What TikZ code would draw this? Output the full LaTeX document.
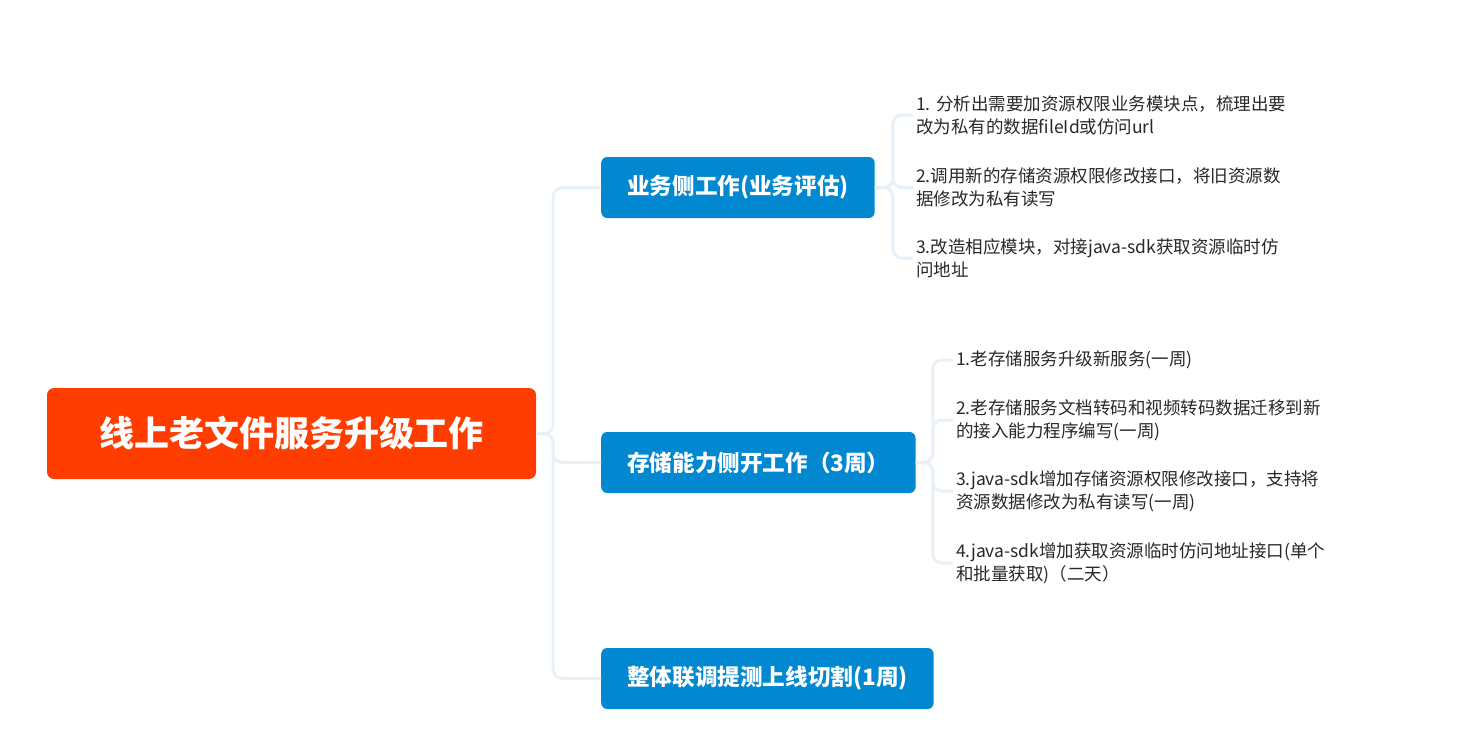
\documentclass[tikz,border=0pt]{standalone}
\usepackage{fontspec}
\setmainfont{Noto Sans CJK SC}
\usetikzlibrary{positioning}
\definecolor{rootred}{RGB}{255,61,0}
\definecolor{topicblue}{RGB}{2,136,209}
\definecolor{linkblue}{RGB}{232,240,248}
\definecolor{leafgray}{RGB}{40,40,40}

\begin{document}
\begin{tikzpicture}[
        x=1pt, y=-1pt,
        rootbox/.style={fill=rootred, rounded corners=7pt, text=white,
                    minimum width=489pt, minimum height=91pt,
                    font=\fontsize{35}{40}\selectfont\bfseries},
        topic/.style={anchor=west, fill=topicblue, rounded corners=6pt,
                    text=white, minimum height=61pt, inner xsep=26pt,
                    font=\fontsize{22.6}{26}\selectfont\bfseries},
        leaf/.style={anchor=west, align=left, text=leafgray,
                    inner xsep=3pt, font=\fontsize{17.5}{23}\selectfont},
        link/.style={draw=linkblue, line width=3pt, rounded corners=9pt}
    ]
    \useasboundingbox (0,0) rectangle (1470,747);

    % ------- root -------
    \node[rootbox] (root) at (291.5,433.5) {线上老文件服务升级工作};

    % ------- main topics -------
    \node[topic] (t1) at (601,187.5) {业务侧工作(业务评估)};
    \node[topic] (t2) at (601,462.5) {存储能力侧开工作（3周）};
    \node[topic] (t3) at (601,678.5) {整体联调提测上线切割(1周)};

    \foreach \t in {t1,t2,t3}
        \draw[link] (root.east) -- ++(17,0) |- (\t.west);

    % ------- 业务侧 -------
    \node[leaf] (a1) at (913,115) {1. 分析出需要加资源权限业务模块点，梳理出要\\改为私有的数据fileId或仿问url};
    \node[leaf] (a2) at (913,187.5) {2.调用新的存储资源权限修改接口，将旧资源数\\据修改为私有读写};
    \node[leaf] (a3) at (913,258) {3.改造相应模块，对接java-sdk获取资源临时仿\\问地址};

    \foreach \a in {a1,a2,a3}
        \draw[link] (t1.east) -- ++(18,0) |- (\a.west);

    % ------- 存储能力侧 -------
    \node[leaf] (s1) at (953,360) {1.老存储服务升级新服务(一周)};
    \node[leaf] (s2) at (953,420) {2.老存储服务文档转码和视频转码数据迁移到新\\的接入能力程序编写(一周)};
    \node[leaf] (s3) at (953,491) {3.java-sdk增加存储资源权限修改接口，支持将\\资源数据修改为私有读写(一周)};
    \node[leaf] (s4) at (953,563) {4.java-sdk增加获取资源临时仿问地址接口(单个\\和批量获取)（二天）};

    \foreach \s in {s1,s2,s3,s4}
        \draw[link] (t2.east) -- ++(17,0) |- (\s.west);

\end{tikzpicture}
\end{document}
